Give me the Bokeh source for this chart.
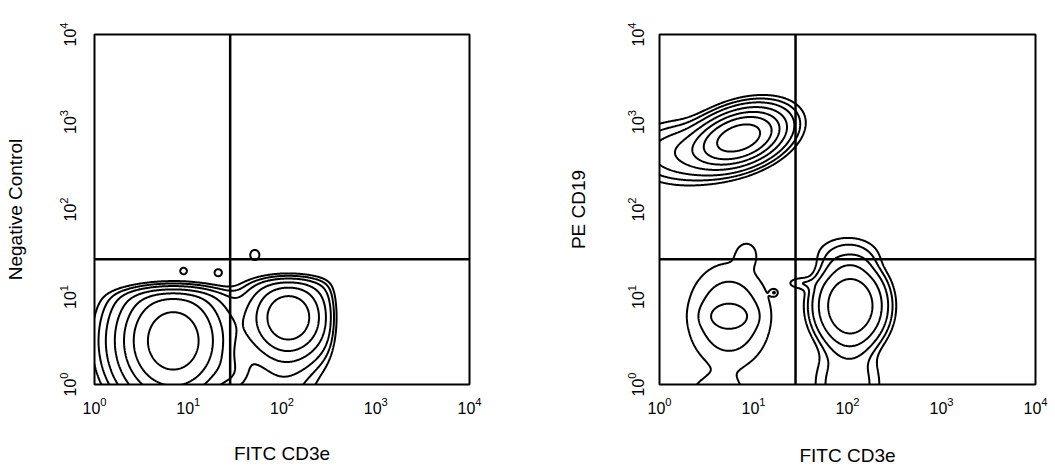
import numpy as np
from bokeh.plotting import figure
from bokeh.layouts import row
from bokeh.models import Span
from bokeh.embed import file_html
from bokeh.resources import INLINE

# ---------------- data ----------------
tick_values = [1, 10, 100, 1000, 10000]   # shown as 10^0 ... 10^4
x_title = "FITC CD3e"
y_titles = ["Negative Control", "PE CD19"]
gate_x = 28.0
gate_y = 27.0
contour_levels = [0.025, 0.045, 0.08, 0.15, 0.26, 0.42, 0.70]

# cell populations: log10 centre, log10 spread, correlation, peak density,
# kernel sharpness (1 = gaussian) and upper soft cut-offs (log10)
# left panel: negative control
neg_cx = [0.84, 2.07, 2.00, 1.48, 1.71, 0.95, 1.32]
neg_cy = [0.50, 0.77, 0.00, 0.12, 1.48, 1.30, 1.28]
neg_sx = [0.32, 0.25, 0.25, 0.12, 0.05, 0.04, 0.045]
neg_sy = [0.39, 0.28, 0.30, 0.14, 0.06, 0.04, 0.045]
neg_rho = [0.0, 0.0, 0.0, 0.0, 0.0, 0.0, 0.0]
neg_amp = [1.00, 0.62, 0.05, 0.06, 0.04, 0.035, 0.035]
neg_sharp = [1.0, 1.0, 1.0, 1.0, 1.0, 1.0, 1.0]
neg_xcut = [9.0, 2.55, 2.55, 9.0, 9.0, 9.0, 9.0]
neg_ycut = [1.08, 1.20, 1.20, 9.0, 9.0, 9.0, 9.0]

# right panel: PE CD19 vs FITC CD3e
cd19_cx = [0.85, 0.20, 0.74, 0.74, 2.03, 2.00, 2.00, 0.60, 1.22, 1.50, 0.93]
cd19_cy = [2.82, 2.65, 0.78, 0.78, 0.90, 0.00, 1.50, -0.15, 1.05, 1.16, 1.50]
cd19_sx = [0.26, 0.30, 0.15, 0.31, 0.25, 0.25, 0.25, 0.20, 0.027, 0.10, 0.08]
cd19_sy = [0.18, 0.20, 0.09, 0.42, 0.32, 0.35, 0.15, 0.15, 0.027, 0.05, 0.10]
cd19_rho = [0.35, 0.0, 0.0, 0.0, 0.0, 0.0, 0.0, 0.0, 0.0, 0.0, 0.0]
cd19_amp = [1.00, 0.12, 0.05, 0.07, 0.35, 0.06, 0.04, 0.05, 0.03, 0.035, 0.03]
cd19_sharp = [1.0, 1.0, 1.0, 1.0, 1.5, 1.5, 1.5, 1.0, 1.0, 1.0, 1.0]
cd19_xcut = [9.0] * 11
cd19_ycut = [9.0] * 11

FONT = "Liberation Sans"


def density(pops, lx, ly):
    X, Y = np.meshgrid(lx, ly)
    Z = np.zeros_like(X)
    for a, b, c, d, r, m, k, xc, yc in zip(*pops):
        dx = (X - a) / c
        dy = (Y - b) / d
        q = (dx * dx - 2 * r * dx * dy + dy * dy) / (1 - r * r)
        f = m * np.exp(-(0.5 * q) ** k)
        f /= (1 + np.exp((X - xc) / 0.045))
        f /= (1 + np.exp((Y - yc) / 0.05))
        Z += f
    return Z


def make_fig(ytitle, pops, w, h, bl, bt, br, bb, ylab_standoff, ystand, xstand):
    p = figure(x_axis_type="log", y_axis_type="log", title=None,
               x_range=(1, 10000), y_range=(1, 10000),
               width=w, height=h,
               min_border_left=bl, min_border_top=bt,
               min_border_right=br, min_border_bottom=bb,
               output_backend="svg", toolbar_location=None)
    p.grid.visible = False
    p.outline_line_color = "black"
    p.outline_line_width = 2
    p.outline_line_alpha = 1
    p.background_fill_color = "white"
    p.border_fill_color = "white"

    lx = np.linspace(-0.7, 4.3, 601)
    ly = np.linspace(-0.7, 4.3, 601)
    Z = density(pops, lx, ly)
    p.contour(x=10 ** lx, y=10 ** ly, z=Z, levels=contour_levels,
              line_color="black", line_width=2)

    p.add_layout(Span(location=gate_x, dimension="height",
                      line_color="black", line_width=2.5))
    p.add_layout(Span(location=gate_y, dimension="width",
                      line_color="black", line_width=2.5))

    for ax in (p.xaxis, p.yaxis):
        ax.ticker = tick_values
        ax.axis_line_color = None
        ax.major_tick_line_color = None
        ax.minor_tick_line_color = None
        ax.major_label_text_font = FONT
        ax.major_label_text_font_size = "16px"
        ax.major_label_text_color = "black"
        ax.axis_label_text_font = FONT
        ax.axis_label_text_font_size = "19px"
        ax.axis_label_text_font_style = "normal"
        ax.axis_label_text_color = "black"
    p.xaxis.major_label_standoff = 6
    p.yaxis.major_label_standoff = ylab_standoff
    p.yaxis.major_label_orientation = "vertical"
    p.xaxis.axis_label_standoff = xstand
    p.yaxis.axis_label_standoff = ystand
    p.xaxis.axis_label = x_title
    p.yaxis.axis_label = ytitle
    return p


neg_pops = (neg_cx, neg_cy, neg_sx, neg_sy, neg_rho, neg_amp,
            neg_sharp, neg_xcut, neg_ycut)
cd19_pops = (cd19_cx, cd19_cy, cd19_sx, cd19_sy, cd19_rho, cd19_amp,
             cd19_sharp, cd19_xcut, cd19_ycut)

# left: frame 375 x 352 starting at (94, 34)
p1 = make_fig(y_titles[0], neg_pops, 548, 469, 94, 34, 79, 83, 13, 30, 26)
# right: frame 376 x 352 starting at (659, 32)
p2 = make_fig(y_titles[1], cd19_pops, 507, 469, 111, 32, 20, 85, 10, 35, 28)

layout = row(p1, p2, spacing=0)
open("out.html", "w").write(file_html(layout, INLINE))
